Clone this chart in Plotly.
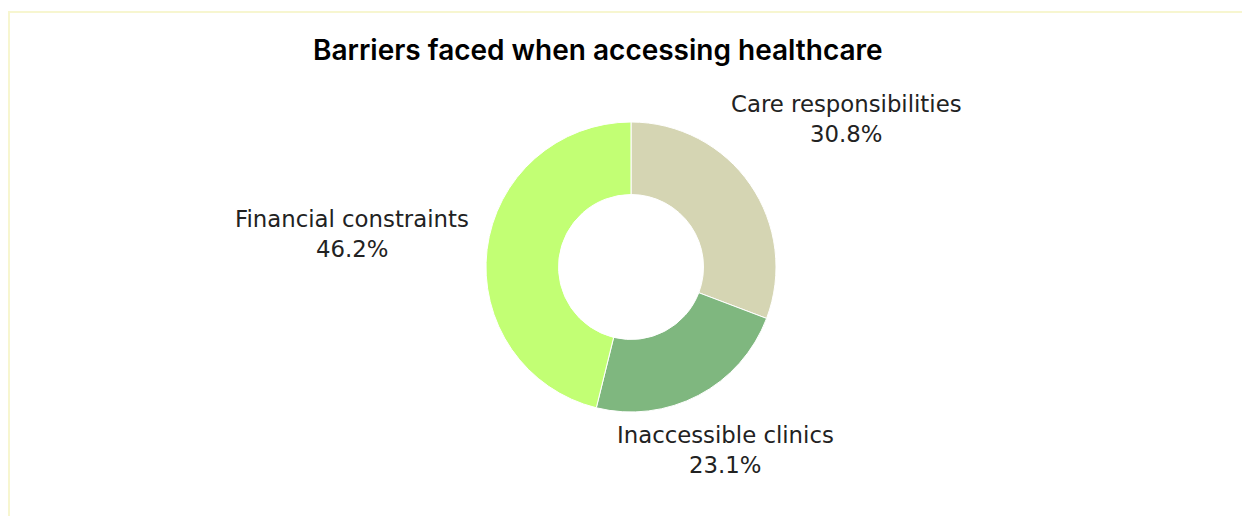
import math
import plotly.graph_objects as go

# Survey results: share of respondents naming each barrier
categories = ["Care responsibilities", "Inaccessible clinics", "Financial constraints"]
shares = [30.8, 23.1, 46.2]
colors = ["#D5D5B3", "#7FB77F", "#C2FF74"]

title_text = "Barriers faced when accessing healthcare"

W, H = 1242, 516
cx, cy, R = 631, 267, 145  # donut centre and outer radius, in pixels

fig = go.Figure()
fig.add_trace(go.Pie(
    labels=categories,
    values=shares,
    hole=0.5,
    sort=False,
    direction="clockwise",
    rotation=0,
    marker=dict(colors=colors, line=dict(color="white", width=1)),
    textinfo="none",
    hoverinfo="label+value",
    showlegend=False,
    domain=dict(x=[(cx - R) / W, (cx + R) / W],
                y=[(H - cy - R) / H, (H - cy + R) / H]),
))

# Label placement: pixel centre of the name line for each slice
label_pos = {
    "Care responsibilities": (846, 104),
    "Inaccessible clinics": (725, 435),
    "Financial constraints": (352, 219),
}
line_gap = 30
label_font = dict(family="DejaVu Sans", size=22.8, color="#222222")

annotations = []
for name, val in zip(categories, shares):
    px, py = label_pos[name]
    for text, yy in ((name, py), (f"{val:.1f}%", py + line_gap)):
        annotations.append(dict(
            x=px / W, y=1 - yy / H, xref="paper", yref="paper",
            text=text, showarrow=False, xanchor="center", yanchor="middle",
            font=label_font,
        ))

annotations.append(dict(
    x=598 / W, y=1 - 50 / H, xref="paper", yref="paper",
    text=title_text, showarrow=False, xanchor="center", yanchor="middle",
    font=dict(family="Inter", size=28, color="#000000", weight=600),
))

fig.update_layout(
    width=W, height=H,
    margin=dict(l=0, r=0, t=0, b=0),
    paper_bgcolor="white",
    plot_bgcolor="white",
    annotations=annotations,
    shapes=[dict(
        type="rect", xref="paper", yref="paper",
        x0=9 / W, x1=1.05, y0=-0.05, y1=1 - 12 / H,
        line=dict(color="#F7F6D0", width=2), fillcolor="rgba(0,0,0,0)",
        layer="below",
    )],
)

fig.write_html("out.html")
